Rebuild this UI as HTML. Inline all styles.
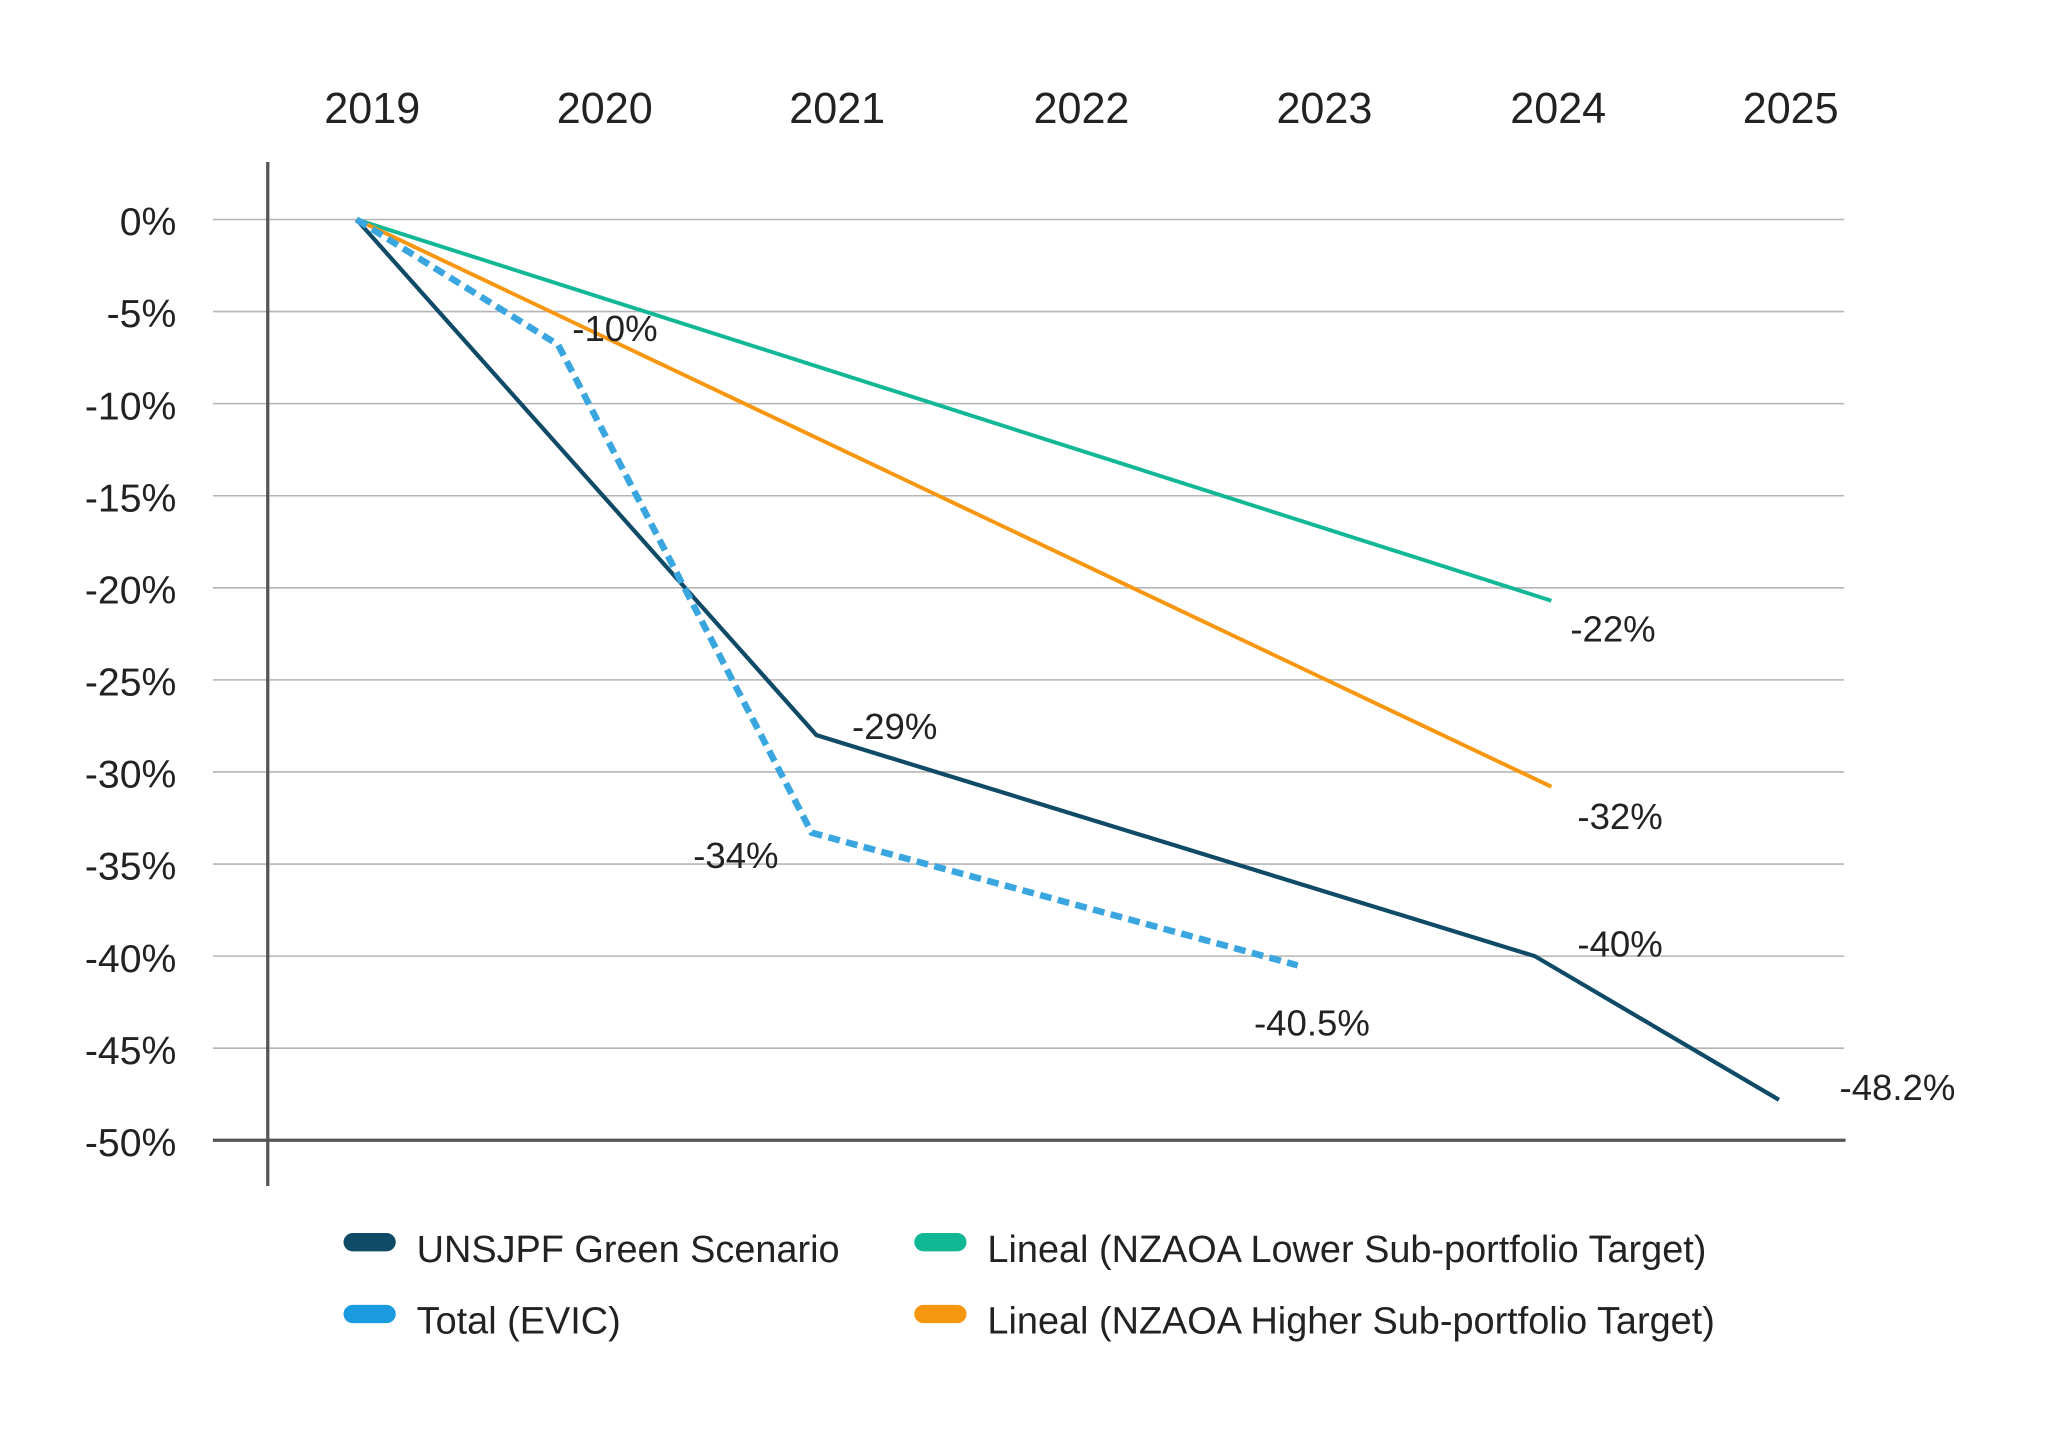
<!DOCTYPE html>
<html><head><meta charset="utf-8"><style>
html,body{margin:0;padding:0;background:#fff;}
svg{display:block;font-family:"Liberation Sans",Arial,sans-serif;}
</style></head><body>
<svg id="chart" width="2048" height="1429" viewBox="0 0 1568 1094" xmlns="http://www.w3.org/2000/svg">
<g id="grid"></g>
<g id="axes"></g>
<g id="series"></g>
<g id="labels"></g>
<g id="legend">
  <g>
    <rect x="263" y="944" width="40" height="14" rx="7" fill="#0f4a66"/>
    <text x="319" y="966" font-size="29" fill="#222">UNSJPF Green Scenario</text>
  </g>
  <g>
    <rect x="263" y="999" width="40" height="14" rx="7" fill="#1a9be0"/>
    <text x="319" y="1021" font-size="29" fill="#222">Total (EVIC)</text>
  </g>
  <g>
    <rect x="700" y="944" width="40" height="14" rx="7" fill="#12b896"/>
    <text x="756" y="966" font-size="29" fill="#222">Lineal (NZAOA Lower Sub-portfolio Target)</text>
  </g>
  <g>
    <rect x="700" y="999" width="40" height="14" rx="7" fill="#f7960f"/>
    <text x="756" y="1021" font-size="29" fill="#222">Lineal (NZAOA Higher Sub-portfolio Target)</text>
  </g>
</g>
</svg>
<script>
const years = [2019, 2020, 2021, 2022, 2023, 2024, 2025];
const yTicks = [0, -5, -10, -15, -20, -25, -30, -35, -40, -45, -50];
const yTickLabels = ["0%","-5%","-10%","-15%","-20%","-25%","-30%","-35%","-40%","-45%","-50%"];
const greenX = [2019, 2020.94, 2023.97, 2025];
const greenY = [0, -28, -40, -47.8];
const evicX = [2019, 2019.85, 2020.92, 2022.97];
const evicY = [0, -6.8, -33.3, -40.5];
const lowerX = [2019, 2024.04];
const lowerY = [0, -20.7];
const higherX = [2019, 2024.04];
const higherY = [0, -30.8];
const labelTexts = ["-10%","-22%","-29%","-32%","-34%","-40%","-40.5%","-48.2%"];
const labelX = [2020.09, 2024.3, 2021.27, 2024.33, 2020.6, 2024.33, 2023.03, 2025.5];
const labelY = [-5.9, -22.2, -27.5, -32.4, -34.5, -39.3, -43.6, -47.1];

const NS = "http://www.w3.org/2000/svg";
const xS = v => 273 + (v - 2019) * (1362 - 273) / 6;
const yS = v => 168 + (-v) * (873 - 168) / 50;
function mk(tag, attrs, parent){const e=document.createElementNS(NS,tag);for(const k in attrs)e.setAttribute(k,attrs[k]);parent.appendChild(e);return e;}
const grid=document.getElementById('grid'), axes=document.getElementById('axes'), series=document.getElementById('series'), labels=document.getElementById('labels');

yTicks.forEach((t,i)=>{
  if(t!==-50){
    const l=mk('line',{x1:163,x2:1412,y1:yS(t),y2:yS(t),stroke:'#b5b5b5','stroke-width':1.2},grid);
    
    
  }
  const tx=mk('text',{x:135,y:yS(t)+12,'text-anchor':'end','font-size':30,fill:'#222'},axes);
  tx.textContent=yTickLabels[i];
  
  
});
const xa=mk('line',{x1:163,x2:1413,y1:yS(-50),y2:yS(-50),stroke:'#555','stroke-width':2.5},axes);


const ya=mk('line',{x1:205,x2:205,y1:124,y2:908,stroke:'#555','stroke-width':2.5},axes);


const yearPos=[285,463,641,828,1014,1193,1371];
years.forEach((yr,i)=>{
  const tx=mk('text',{x:yearPos[i],y:94,'text-anchor':'middle','font-size':33,fill:'#222'},axes);
  tx.textContent=yr;
  
  
});
function line(xs,ys,color,w,dash,name){
  const pts=xs.map((x,i)=>xS(x)+','+yS(ys[i])).join(' ');
  const p=mk('polyline',{points:pts,fill:'none',stroke:color,'stroke-width':w,'stroke-linejoin':'miter'},series);
  if(dash)p.setAttribute('stroke-dasharray',dash);
  
  
}
line(lowerX,lowerY,'#12b896',3,null,'lower-target-line');
line(higherX,higherY,'#f7960f',3,null,'higher-target-line');
line(greenX,greenY,'#0f4a66',3.2,null,'green-scenario-line');
line(evicX,evicY,'#3aa6e0',5,'9 5','total-evic-line');
labelTexts.forEach((t,i)=>{
  const tx=mk('text',{x:xS(labelX[i]),y:yS(labelY[i])+10,'text-anchor':'middle','font-size':28,fill:'#222'},labels);
  tx.textContent=t;
  
  
});
</script>
</body></html>
